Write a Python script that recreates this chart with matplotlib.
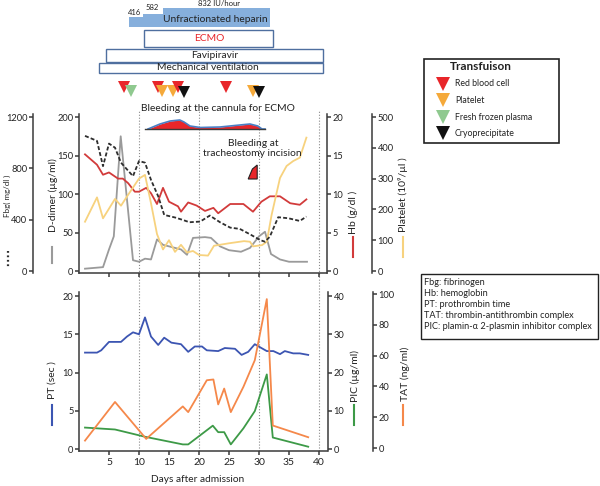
import matplotlib
matplotlib.use('Agg')
import matplotlib.pyplot as plt
from matplotlib.patches import Rectangle, Polygon

plt.rcParams['font.family'] = ['Lato', 'DejaVu Sans']

# ---------------- data ----------------
dd_days = [1, 4, 5, 5.8, 6.95, 9, 10, 11, 12, 13, 14, 16, 17, 18, 19, 21, 22, 23.5, 25, 27, 28.5, 30, 31, 32, 33.5, 35, 38]
dd_vals = [3, 5, 28, 45, 175, 14, 12, 16, 15, 41, 34, 30, 28, 21, 43, 44, 43, 32, 27, 25, 30, 45, 51, 22, 15, 12, 12]

hb_days = [1, 3, 4, 5, 6.5, 7.3, 8.2, 9.3, 10, 11.2, 12, 13, 14, 15, 16.5, 17, 18.2, 19.6, 21, 22.4, 23.2, 25.2, 27.4, 29, 30.4, 31.8, 33.5, 35.2, 36.8, 37.9]
hb_vals = [15.15, 13.8, 12.5, 12.8, 12.0, 12.0, 11.4, 10.3, 10.3, 10.8, 10.1, 8.7, 10.8, 9.0, 8.4, 7.7, 8.9, 8.5, 7.8, 8.2, 7.5, 8.7, 8.7, 7.7, 9.0, 9.7, 9.7, 8.8, 8.6, 9.3]

plt_days = [1, 3, 4, 6, 7, 8, 10, 11, 12, 13, 14, 15, 16, 17, 18, 19, 20, 21.5, 22.5, 25, 27.5, 28.5, 29, 30.5, 31.3, 32.1, 33.5, 34.6, 35.7, 36.8, 37.9]
plt_vals = [160, 239, 171, 234, 212, 242, 300, 312, 220, 120, 70, 100, 62, 85, 60, 65, 52, 50, 82, 90, 97, 95, 80, 84, 95, 182, 302, 341, 357, 368, 433]

fbg_days = [1, 3, 4, 5, 6, 7, 9, 10, 11, 12, 13.2, 14.2, 16, 17.3, 18.4, 20.2, 21.8, 23.5, 25.2, 26.8, 28.5, 30.2, 31, 31.8, 33.2, 34.9, 36.8, 37.9]
fbg_vals = [1053, 1014, 817, 993, 961, 844, 739, 857, 844, 710, 582, 437, 417, 398, 380, 385, 432, 380, 338, 328, 286, 241, 228, 267, 419, 411, 390, 424]

pt_days = [1, 3, 3.7, 5, 7, 8, 9, 10, 11, 12, 13.2, 14.2, 15.4, 17, 18.2, 19.3, 20.5, 21.3, 23.2, 24.3, 26, 27.1, 28.2, 29.3, 30.4, 31.3, 32.4, 33.5, 34.3, 35.7, 36.8, 38.2]
pt_vals = [12.6, 12.6, 12.9, 14.0, 14.0, 14.7, 15.25, 15.0, 17.2, 14.7, 13.6, 14.55, 13.9, 13.7, 12.7, 13.4, 13.4, 12.9, 12.8, 13.2, 13.1, 12.3, 12.7, 13.7, 13.2, 12.8, 12.8, 12.4, 12.8, 12.5, 12.5, 12.3]

tat_days = [1, 6, 11.2, 17.3, 18.2, 21.3, 22.4, 23.2, 24.2, 25.3, 27.4, 29.3, 31.3, 32.3, 38.2]
tat_vals = [4.8, 29.9, 5.9, 27, 23.3, 44, 44.5, 28.3, 38.6, 23.3, 39.7, 57, 96.7, 14.6, 7]

pic_days = [1, 6, 11, 17.3, 18.2, 22.3, 23.2, 24.2, 25.3, 27.4, 29.3, 31.3, 32.3, 38.2]
pic_vals = [5.6, 5.1, 3.2, 1.2, 1.2, 6.1, 4.4, 4.4, 1.2, 5.4, 9.9, 19.5, 3.0, 0.6]

heparin_doses = [416, 582, 832]
heparin_start = [8.3, 10.7, 14.0]
heparin_end = [10.7, 14.0, 31.8]

treat_names = ['ECMO', 'Favipiravir', 'Mechanical ventilation']
treat_start = [10.8, 4.5, 3.3]
treat_end = [32.3, 40.7, 40.7]

transf_days = [7.5, 8.75, 13.2, 13.9, 15.7, 16.5, 17.5, 24.5, 29.0, 30.0]
transf_types = ['RBC', 'FFP', 'RBC', 'PLT', 'PLT', 'RBC', 'CRYO', 'RBC', 'PLT', 'CRYO']

cannula_days = [11.5, 13.5, 15.2, 16.8, 17.5, 18.5, 20.2, 23.5, 26.8, 28.5, 29.8, 30.5]
cannula_level = [0, 5, 8, 9, 7, 3, 1.5, 2, 4, 5, 3, 0]
trach_days = [28.2, 28.9, 29.7, 29.7]
trach_level = [0, 10, 14, 0]

ref_days = [10, 20, 30, 40]

legend_types = ['RBC', 'PLT', 'FFP', 'CRYO']
legend_labels = ['Red blood cell', 'Platelet', 'Fresh frozen plasma', 'Cryoprecipitate']

abbrev_lines = ['Fbg: fibrinogen', 'Hb: hemoglobin', 'PT: prothrombin time',
                'TAT: thrombin-antithrombin complex', 'PIC: plamin-\u03b1 2-plasmin inhibitor complex']

# ---------------- style ----------------
W, H = 600, 486
AX = '#3a3a3a'
C_DD = '#9a9a9a'
C_HB = '#d23b3b'
C_PLT = '#f7d27e'
C_FBG = '#2e2e2e'
C_PT = '#3c55b2'
C_TAT = '#f5884a'
C_PIC = '#3d9a47'
C_HEP = '#86afdc'
C_BOX = '#4f6f9f'
TCOL = {'RBC': '#e8262a', 'PLT': '#f5a93a', 'FFP': '#8fc98f', 'CRYO': '#111111'}
TOFF = {'RBC': 87, 'PLT': 91, 'FFP': 91, 'CRYO': 92}

fig = plt.figure(figsize=(6, 4.86), dpi=100)

def frac(x0, y_top, x1, y_bot):
    return [x0 / W, 1 - y_bot / H, (x1 - x0) / W, (y_bot - y_top) / H]

XL, XR = 79, 327
xlim = (0, (XR - XL) / 6.0)


def style_y(ax, side, pos=None, keep_bottom=False):
    for k, s in ax.spines.items():
        s.set_visible(False)
    sp = ax.spines[side]
    sp.set_visible(True)
    if pos is not None:
        sp.set_position(('axes', pos))
    sp.set_linewidth(1.1)
    sp.set_color(AX)
    ax.yaxis.set_ticks_position(side)
    ax.tick_params(axis='y', direction='out', length=3, width=1.1, colors=AX,
                   labelsize=6.7, pad=1, labelcolor='#222')
    if keep_bottom:
        b = ax.spines['bottom']
        b.set_visible(True)
        b.set_linewidth(1.1)
        b.set_color(AX)
    ax.patch.set_visible(False)

# ---------------- top panel ----------------
T_TOP, T_BOT = 114, 273
ax_d = fig.add_axes(frac(XL, T_TOP, XR, T_BOT))
ax_d.set_xlim(xlim)
def yl(y0, full, maxv):
    return ((y0 - T_BOT) * maxv / full, (y0 - T_TOP) * maxv / full)
ax_d.set_ylim(*yl(271, 154, 200))
style_y(ax_d, 'left', keep_bottom=True)
ax_d.set_yticks([0, 50, 100, 150, 200])
ax_d.set_xticks([5, 10, 15, 20, 25, 30, 35, 40])
ax_d.tick_params(axis='x', direction='out', length=3, width=1.1, colors=AX, labelbottom=False)
ax_d.plot(dd_days, dd_vals, color=C_DD, lw=1.3, zorder=3)

ax_hb = ax_d.twinx()
ax_hb.set_ylim(*yl(271, 154, 20))
style_y(ax_hb, 'right')
ax_hb.set_yticks([0, 5, 10, 15, 20])
ax_hb.plot(hb_days, hb_vals, color=C_HB, lw=1.3, zorder=3)

ax_pl = ax_d.twinx()
ax_pl.set_ylim(*yl(271, 154, 500))
style_y(ax_pl, 'right', pos=(372 - XL) / (XR - XL))
ax_pl.set_yticks([0, 100, 200, 300, 400, 500])
ax_pl.plot(plt_days, plt_vals, color=C_PLT, lw=1.3, zorder=3)

ax_fb = ax_d.twinx()
ax_fb.set_ylim(*yl(271, 154, 1200))
style_y(ax_fb, 'left', pos=(33 - XL) / (XR - XL))
ax_fb.yaxis.set_label_position('left')
ax_fb.set_yticks([0, 400, 800, 1200])
ax_fb.plot(fbg_days, fbg_vals, color=C_FBG, lw=1.3, ls=(0, (2.2, 1.2)), zorder=3)

for d in ref_days:
    ax_d.axvline(d, ymin=(T_BOT - 292) / (T_BOT - T_TOP), ymax=(T_BOT - 110) / (T_BOT - T_TOP),
                 clip_on=False, ls=':', color='#8a8a8a', lw=0.8, zorder=1)

# ---------------- bottom panel ----------------
B_TOP, B_BOT = 292, 451
ax_pt = fig.add_axes(frac(XL, B_TOP, XR, B_BOT))
ax_pt.set_xlim(xlim)
ax_pt.set_ylim((449 - B_BOT) * 20 / 153, (449 - B_TOP) * 20 / 153)
style_y(ax_pt, 'left', keep_bottom=True)
ax_pt.set_yticks([0, 5, 10, 15, 20])
ax_pt.set_xticks([5, 10, 15, 20, 25, 30, 35, 40])
ax_pt.tick_params(axis='x', direction='out', length=3, width=1.1, colors=AX, labelsize=7.5,
                  labelcolor='#222', pad=2)
ax_pt.plot(pt_days, pt_vals, color=C_PT, lw=1.3, zorder=3)

ax_pic = ax_pt.twinx()
ax_pic.set_ylim((449 - B_BOT) * 40 / 153, (449 - B_TOP) * 40 / 153)
style_y(ax_pic, 'right', pos=(328 - XL) / (XR - XL))
ax_pic.set_yticks([0, 10, 20, 30, 40])
ax_pic.plot(pic_days, pic_vals, color=C_PIC, lw=1.3, zorder=3)

ax_tat = ax_pt.twinx()
ax_tat.set_ylim((448 - B_BOT) * 100 / 154, (448 - B_TOP) * 100 / 154)
style_y(ax_tat, 'right', pos=(373 - XL) / (XR - XL))
ax_tat.set_yticks([0, 20, 40, 60, 80, 100])
ax_tat.plot(tat_days, tat_vals, color=C_TAT, lw=1.3, zorder=3)

for d in ref_days:
    ax_pt.axvline(d, ymin=0, ymax=1, ls=':', color='#8a8a8a', lw=0.8, zorder=1)

# ---------------- annotation layer (x in days, y in pixels) ----------------
ax_an = fig.add_axes([XL / W, 0, (XR - XL) / W, 1])
ax_an.set_xlim(xlim)
ax_an.set_ylim(H, 0)
ax_an.axis('off')
ax_an.patch.set_visible(False)

hmax = max(heparin_doses)
for dose, s, e in zip(heparin_doses, heparin_start, heparin_end):
    h = 19 * dose / hmax
    ax_an.add_patch(Rectangle((s, 27 - h), e - s, h, facecolor=C_HEP, edgecolor='none', zorder=2))

rows = [(30, 47), (49, 62), (63, 73)]
for name, s, e, (y0, y1) in zip(treat_names, treat_start, treat_end, rows):
    ax_an.add_patch(Rectangle((s, y0), e - s, y1 - y0, facecolor='white', edgecolor=C_BOX, lw=1.0, zorder=2))

for d, t in zip(transf_days, transf_types):
    ax_an.plot([d], [TOFF[t]], marker='v', ms=8.5, color=TCOL[t], mew=0, ls='none', zorder=3)

base = 129
top_prof = [base - v for v in cannula_level]
ax_an.fill_between(cannula_days, top_prof, base, color='#e8262a', lw=0, zorder=2)
ax_an.plot(cannula_days + [31.0], top_prof + [base], color='#4a7fc4', lw=1.2, zorder=3)
ax_an.plot([11.0, 31.0], [base, base], color='#3a3a3a', lw=1.0, zorder=3)
tb = 179
ax_an.add_patch(Polygon(list(zip(trach_days, [tb - v for v in trach_level])), closed=True,
                        facecolor='#e8262a', edgecolor='#222', lw=0.8, zorder=3))

# ---------------- overlay layer (pixel coordinates) ----------------
ax_o = fig.add_axes([0, 0, 1, 1])
ax_o.set_xlim(0, W)
ax_o.set_ylim(H, 0)
ax_o.axis('off')
ax_o.patch.set_visible(False)

fig.canvas.draw()
R = fig.canvas.get_renderer()

def fitted_size(s, target, weight='normal', rot=0):
    t = ax_o.text(0, 0, s, fontsize=10, fontweight=weight, rotation=rot)
    bb = t.get_window_extent(renderer=R)
    cur = bb.height if rot == 90 else bb.width
    t.remove()
    return 10 * target / cur

def txt(x, y, s, fs, rot=0, color='#222', weight='normal', ha='center'):
    return ax_o.text(x, y, s, ha=ha, va='center', rotation=rot, color=color,
                     fontweight=weight, fontsize=fs)

fs_top = fitted_size('Unfractionated heparin', 105)
fs_lab = fitted_size('D-dimer (\u00b5g/ml)', 74, rot=90)
fs_leg = fitted_size('Fresh frozen plasma', 77)
fs_ab = fitted_size(abbrev_lines[-1], 167)
fs_bl = fitted_size('Bleeding at the cannula for ECMO', 155)
fs_fbg = min(fs_lab, fitted_size('Fbg( mg/dl )', 42, rot=90))

# treatment texts
txt(215.5, 19, 'Unfractionated heparin', fs_top)
txt(134.5, 12.5, '416', 5.5)
txt(152, 7.5, '582', 5.5)
txt(219, 3.5, '832 IU/hour', 5.5)
txt(209, 38.5, 'ECMO', fs_top, color='#e8262a')
txt(214.5, 55.5, 'Favipiravir', fs_top)
txt(208, 67.5, 'Mechanical ventilation', fs_top)

# bleeding texts
txt(217.5, 108.5, 'Bleeding at the cannula for ECMO', fs_bl)
txt(253.5, 143, 'Bleeding at', fs_bl)
txt(252.5, 153.5, 'tracheostomy incision', fs_bl)

# axis labels and colored keys
txt(7, 196, 'Fbg( mg/dl )', fs_fbg, rot=90)
ax_o.plot([8, 8], [251, 267], color=C_FBG, lw=1.6, ls=(0, (0.8, 1.2)))
txt(53, 195, 'D-dimer (\u00b5g/ml)', fs_lab, rot=90)
ax_o.plot([52, 52], [247, 263], color=C_DD, lw=1.5)
txt(353, 212, 'Hb (g/dl )', fs_lab, rot=90)
ax_o.plot([353, 353], [237, 257], color=C_HB, lw=1.5)
txt(403, 195, 'Platelet (10\u2079/\u00b5l )', fs_lab, rot=90)
ax_o.plot([403, 403], [237, 257], color=C_PLT, lw=1.5)
txt(52, 380, 'PT (sec )', fs_lab, rot=90)
ax_o.plot([52, 52], [405, 425], color=C_PT, lw=1.5)
txt(355, 376, 'PIC (\u00b5g/ml)', fs_lab, rot=90)
ax_o.plot([354, 354], [405, 425], color=C_PIC, lw=1.5)
txt(405, 374, 'TAT (ng/ml)', fs_lab, rot=90)
ax_o.plot([403, 403], [405, 425], color=C_TAT, lw=1.5)

txt(198, 479, 'Days after admission', fitted_size('Days after admission', 93))

# transfusion legend
ax_o.add_patch(Rectangle((424, 59), 135, 84, facecolor='white', edgecolor='#222', lw=1.2))
txt(481, 66, 'Transfuison', fitted_size('Transfuison', 62, weight='bold'), weight='bold')
leg_y = [84, 100, 117, 133]
for t, lab, y in zip(legend_types, legend_labels, leg_y):
    ax_o.plot([443], [y], marker='v', ms=10, color=TCOL[t], mew=0, ls='none')
    txt(455, y, lab, fs_leg, ha='left')

# abbreviations box
ax_o.add_patch(Rectangle((421, 274), 177, 65, facecolor='white', edgecolor='#222', lw=1.0))
ab_y = [282, 293, 304, 315, 326]
for s, y in zip(abbrev_lines, ab_y):
    txt(424, y, s, fs_ab, ha='left')

fig.savefig('out.png', dpi=100)
